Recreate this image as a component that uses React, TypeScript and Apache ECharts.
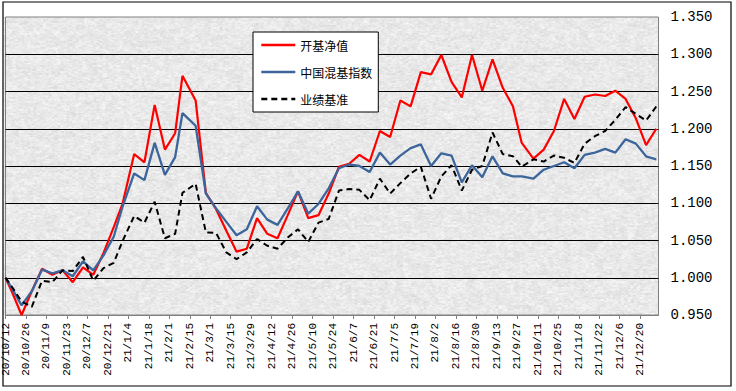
import React, { useEffect, useRef } from "react";
import * as echarts from "echarts";

const dates = [
  "2020-10-12", "2020-10-16", "2020-10-23", "2020-10-30", "2020-11-06", "2020-11-13", "2020-11-20", "2020-11-27",
  "2020-12-04", "2020-12-11", "2020-12-18", "2020-12-25", "2020-12-31",
  "2021-01-08", "2021-01-15", "2021-01-22", "2021-01-29", "2021-02-05", "2021-02-10", "2021-02-19", "2021-02-26",
  "2021-03-05", "2021-03-12", "2021-03-19", "2021-03-26", "2021-04-02", "2021-04-09", "2021-04-16", "2021-04-23",
  "2021-04-30", "2021-05-07", "2021-05-14", "2021-05-21", "2021-05-28",
  "2021-06-04", "2021-06-11", "2021-06-18", "2021-06-25", "2021-07-02", "2021-07-09", "2021-07-16", "2021-07-23",
  "2021-07-30", "2021-08-06", "2021-08-13", "2021-08-20", "2021-08-27", "2021-09-03", "2021-09-10", "2021-09-17",
  "2021-09-24", "2021-09-30", "2021-10-08", "2021-10-15", "2021-10-22", "2021-10-29", "2021-11-05", "2021-11-12",
  "2021-11-19", "2021-11-26", "2021-12-03", "2021-12-10", "2021-12-17", "2021-12-24", "2021-12-31",
];

const fundNav = [
  1.0, 0.983, 0.95, 0.982, 1.012, 1.004, 1.01, 0.994, 1.014, 1.004, 1.033, 1.068, 1.099,
  1.166, 1.155, 1.232, 1.172, 1.194, 1.271, 1.238, 1.114, 1.092, 1.063, 1.035, 1.039, 1.08, 1.059, 1.053, 1.084,
  1.116, 1.08, 1.084, 1.113, 1.149,
  1.153, 1.165, 1.156, 1.197, 1.189, 1.238, 1.23, 1.276, 1.273, 1.299, 1.263, 1.242, 1.299, 1.251, 1.293, 1.255,
  1.23, 1.181, 1.16, 1.172, 1.197, 1.24, 1.213, 1.243, 1.246, 1.244, 1.251, 1.24, 1.214, 1.178, 1.2,
];

const mixedIndex = [
  1.0, 0.987, 0.963, 0.982, 1.011, 1.006, 1.01, 1.002, 1.022, 1.01, 1.03, 1.055, 1.095,
  1.14, 1.131, 1.181, 1.138, 1.162, 1.221, 1.204, 1.113, 1.093, 1.075, 1.057, 1.065, 1.096, 1.078, 1.071, 1.093,
  1.116, 1.086, 1.099, 1.12, 1.147,
  1.152, 1.15, 1.142, 1.168, 1.152, 1.164, 1.174, 1.179, 1.15, 1.167, 1.164, 1.128, 1.151, 1.135, 1.163, 1.14,
  1.136, 1.136, 1.133, 1.145, 1.15, 1.155, 1.147, 1.165, 1.168, 1.173, 1.168, 1.186, 1.18, 1.163, 1.159,
];

const benchmark = [
  1.0, 0.989, 0.968, 0.961, 0.996, 0.994, 1.01, 1.009, 1.028, 0.996, 1.013, 1.02, 1.049,
  1.083, 1.074, 1.102, 1.053, 1.059, 1.114, 1.126, 1.061, 1.06, 1.034, 1.025, 1.034, 1.052, 1.043, 1.039, 1.054,
  1.065, 1.048, 1.074, 1.079, 1.117,
  1.119, 1.118, 1.104, 1.133, 1.113, 1.127, 1.14, 1.149, 1.106, 1.136, 1.151, 1.117, 1.145, 1.15, 1.195, 1.166,
  1.163, 1.149, 1.159, 1.156, 1.164, 1.161, 1.154, 1.18, 1.19, 1.197, 1.212, 1.229, 1.22, 1.211, 1.23,
];

const seriesNames = ["开基净值", "中国混基指数", "业绩基准"];
const yTicks = { min: 0.95, max: 1.35, step: 0.05 };
const xTickDays = 14;
const xMaxDays = 446.5;

const DAY = 86400000;
const baseTime = Date.UTC(2020, 9, 12);
function dayOffset(s: string): number {
  const [y, m, d] = s.split("-").map(Number);
  return Math.round((Date.UTC(y, m - 1, d) - baseTime) / DAY);
}
function fmtDay(v: number): string {
  const dt = new Date(baseTime + Math.round(v) * DAY);
  const yy = String(dt.getUTCFullYear() % 100);
  return `${yy}/${dt.getUTCMonth() + 1}/${dt.getUTCDate()}`;
}

function hash(x: number, y: number): number {
  let h = (Math.imul(x, 374761393) + Math.imul(y, 668265263)) | 0;
  h = Math.imul(h ^ (h >>> 13), 1274126177);
  h = h ^ (h >>> 16);
  return (h >>> 0) / 4294967295;
}

function makeTexture(w: number, h: number): string {
  const c = document.createElement("canvas");
  c.width = w;
  c.height = h;
  const ctx = c.getContext("2d");
  if (!ctx) return "";
  const img = ctx.createImageData(w, h);
  for (let y = 0; y < h; y++) {
    for (let x = 0; x < w; x++) {
      const n1 = hash(x, y);
      const n3 = hash(Math.floor(x / 3) + 1000, Math.floor(y / 2) + 2000);
      const n7 = hash(Math.floor(x / 8) + 5000, Math.floor(y / 6) + 7000);
      let v = 233 + (n1 - 0.5) * 18 + (n3 - 0.5) * 14 + (n7 - 0.5) * 6;
      v = Math.max(196, Math.min(252, v));
      const i = (y * w + x) * 4;
      img.data[i] = v;
      img.data[i + 1] = v;
      img.data[i + 2] = v;
      img.data[i + 3] = 255;
    }
  }
  ctx.putImageData(img, 0, 0);
  return c.toDataURL();
}

export default function App() {
  const ref = useRef<HTMLDivElement>(null);
  useEffect(() => {
    document.body.style.margin = "0";
    if (!ref.current) return;
    const chart = echarts.init(ref.current, null, { renderer: "svg" });
    const gridLeft = 3.5;
    const gridTop = 17;
    const gridRight = 77.5;
    const gridBottom = 76;
    const pw = 736 - gridLeft - gridRight;
    const ph = 391 - gridTop - gridBottom;
    const tex = makeTexture(Math.round(pw), Math.round(ph));
    const mk = (vals: number[]) => dates.map((d, i) => [dayOffset(d), vals[i]]);
    chart.setOption({
      animation: false,
      backgroundColor: "#ffffff",
      graphic: [
        {
          type: "image",
          x: gridLeft,
          y: gridTop,
          z: -10,
          silent: true,
          style: { image: tex, x: 0, y: 0, width: pw, height: ph },
        },
        {
          type: "rect",
          z: 100,
          silent: true,
          shape: { x: 3, y: 2, width: 728, height: 384 },
          style: { fill: "none", stroke: "#000", lineWidth: 1.2 },
        },
      ],
      grid: {
        left: gridLeft,
        right: gridRight,
        top: gridTop,
        bottom: gridBottom,
        show: true,
        borderColor: "#808080",
        borderWidth: 1,
        backgroundColor: "transparent",
        containLabel: false,
      },
      legend: {
        left: 253,
        top: 32,
        orient: "vertical",
        itemWidth: 34,
        itemHeight: 14,
        itemGap: 15,
        padding: [7, 6, 7, 7],
        borderColor: "#000",
        borderWidth: 1,
        backgroundColor: "#fff",
        data: seriesNames,
        itemStyle: { opacity: 0 },
        lineStyle: { width: 2.6 },
        textStyle: { fontSize: 12, color: "#000", fontFamily: "Noto Sans CJK SC" },
      },
      xAxis: {
        type: "value",
        min: 0,
        max: xMaxDays,
        interval: xTickDays,
        axisLine: { show: true, onZero: false, lineStyle: { color: "#808080", width: 1 } },
        axisTick: { show: true, length: 4, lineStyle: { color: "#808080" } },
        axisLabel: {
          rotate: 90,
          margin: 8,
          fontFamily: "Liberation Mono",
          fontSize: 11,
          color: "#000",
          showMaxLabel: false,
          formatter: (v: number) => (Math.abs(v / xTickDays - Math.round(v / xTickDays)) < 1e-6 ? fmtDay(v) : ""),
        },
        splitLine: { show: false },
      },
      yAxis: {
        type: "value",
        position: "right",
        min: yTicks.min,
        max: yTicks.max,
        interval: yTicks.step,
        axisLine: { show: false },
        axisTick: { show: false },
        axisLabel: {
          margin: 12,
          fontFamily: "Liberation Mono",
          fontSize: 14,
          color: "#000",
          formatter: (v: number) => v.toFixed(3),
        },
        splitLine: {
          show: true,
          showMinLine: false,
          showMaxLine: false,
          lineStyle: { color: "#000", width: 1 },
        },
      },
      series: [
        {
          name: seriesNames[0],
          type: "line",
          data: mk(fundNav),
          symbol: "none",
          lineStyle: { color: "#ff0000", width: 2.2 },
          itemStyle: { color: "#ff0000" },
        },
        {
          name: seriesNames[1],
          type: "line",
          data: mk(mixedIndex),
          symbol: "none",
          lineStyle: { color: "#3c659c", width: 2.3 },
          itemStyle: { color: "#3c659c" },
        },
        {
          name: seriesNames[2],
          type: "line",
          data: mk(benchmark),
          symbol: "none",
          lineStyle: { color: "#000000", width: 2, type: [6, 4] },
          itemStyle: { color: "#000000" },
        },
      ],
    });
    return () => chart.dispose();
  }, []);
  return <div ref={ref} style={{ width: 736, height: 391 }} />;
}
